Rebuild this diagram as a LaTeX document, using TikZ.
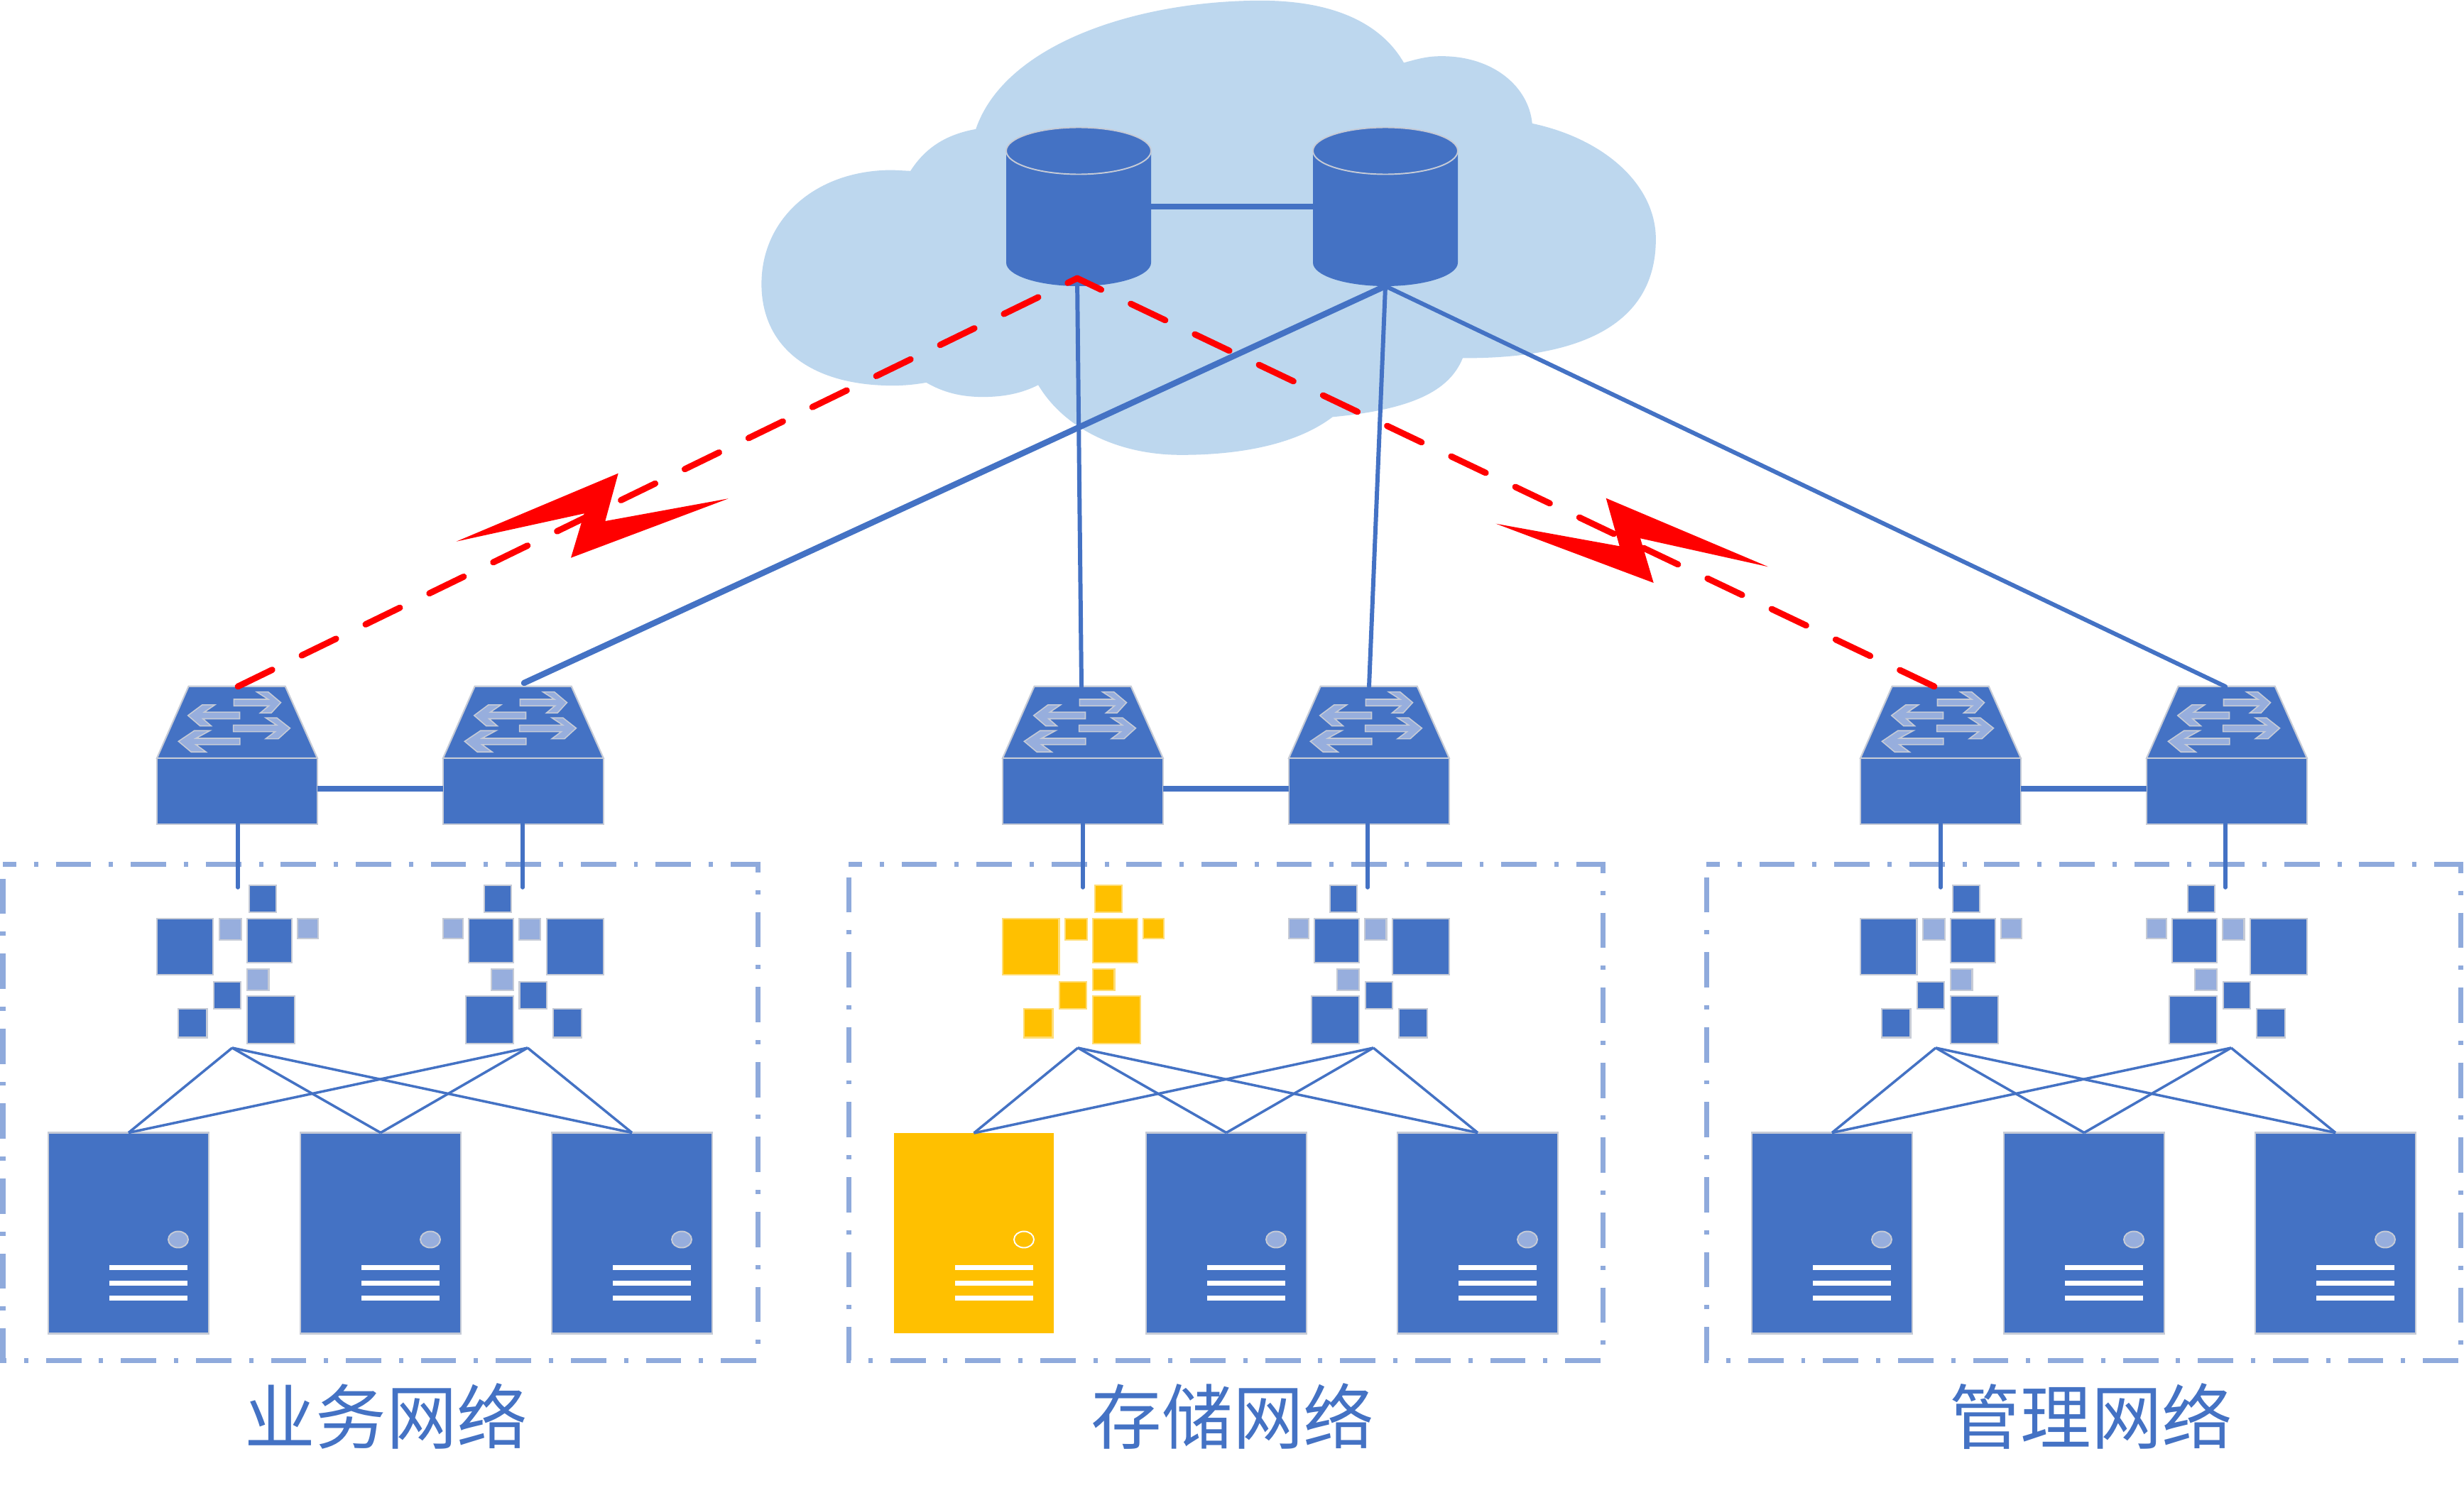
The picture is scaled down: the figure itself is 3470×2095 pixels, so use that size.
\documentclass[tikz,border=0pt]{standalone}
\usepackage{fontspec}
\newfontfamily\cjk{Noto Sans CJK SC}
\definecolor{blu}{HTML}{4472C4}
\definecolor{lblu}{HTML}{97AEDD}
\definecolor{edge}{HTML}{C6CBD6}
\definecolor{yel}{HTML}{FFC000}
\definecolor{yedge}{HTML}{FFDD75}
\definecolor{cloudc}{HTML}{BDD7EE}
\definecolor{boxc}{HTML}{8FAADC}
\tikzset{
  dk/.style={fill=blu,draw=edge,line width=1.2pt},
  lt/.style={fill=lblu,draw=edge,line width=1.2pt},
  ydk/.style={fill=yel,draw=yedge,line width=1.2pt},
  body/.style={rectangle,fill=blu,draw=edge,line width=1.2pt,inner sep=0pt,outer sep=0pt,minimum width=4.52cm,minimum height=1.86cm},
  srv/.style={rectangle,fill=blu,draw=edge,line width=1.2pt,inner sep=0pt,outer sep=0pt,minimum width=4.52cm,minimum height=5.66cm},
  ysrv/.style={rectangle,fill=yel,inner sep=0pt,outer sep=0pt,minimum width=4.5cm,minimum height=5.64cm},
  arrowshape/.style={fill=lblu,draw=edge,line width=0.9pt,line join=miter},
  peer/.style={blu,line width=4.4pt},
  stub/.style={blu,line width=3.2pt,line cap=round},
  upthin/.style={blu,line width=3.4pt,line cap=round},
  upthick/.style={blu,line width=4.8pt,line cap=round},
  redlink/.style={red,line width=5pt,line cap=round,dash pattern=on 30.6pt off 26.3pt},
  cross/.style={blu,line width=2pt},
  netbox/.style={boxc,line width=4pt,dash pattern=on 28.3pt off 14.2pt on 3.4pt off 14.2pt,dash phase=17.6pt},
  netlabel/.style={text=blu,font=\cjk\fontsize{56.7}{60}\selectfont,inner sep=0pt}
}
\newcommand\swtop[1]{%
  \begin{scope}[shift={(#1,940)},x=0.008929cm,y=-0.007143cm,shift={(-47,0)}]
    \draw[dk,line join=miter] (47,358) -- (147,75) -- (452,75) -- (553,358) -- cycle;
    \draw[arrowshape] (290,126) -- (398,126) -- (362,97) -- (398,97) -- (438,139) -- (408,180) -- (373,180) -- (400,152) -- (290,152) -- cycle;
    \draw[arrowshape] (308,177) -- (196,177) -- (230,148) -- (190,148) -- (145,190) -- (183,231) -- (218,231) -- (192,203) -- (308,203) -- cycle;
    \draw[arrowshape] (288,228) -- (425,228) -- (390,199) -- (425,199) -- (467,240) -- (430,282) -- (390,282) -- (420,254) -- (288,254) -- cycle;
    \draw[arrowshape] (309,280) -- (170,280) -- (214,250) -- (165,250) -- (115,292) -- (155,334) -- (202,334) -- (170,305) -- (309,305) -- cycle;
  \end{scope}}
% #1 left x, #2 dark style, #3 light style
\newcommand\groupA[3]{%
  \begin{scope}[shift={(#1,940)},x=0.008929cm,y=-0.007143cm,shift={(-47,0)}]
    \draw[#2] (338,861) rectangle (423,967);
    \draw[#2] (47,991) rectangle (225,1214);
    \draw[#3] (245,991) rectangle (313,1075);
    \draw[#2] (331,991) rectangle (472,1166);
    \draw[#3] (490,991) rectangle (555,1070);
    \draw[#3] (331,1190) rectangle (400,1275);
    \draw[#2] (226,1240) rectangle (312,1347);
    \draw[#2] (115,1347) rectangle (205,1461);
    \draw[#2] (331,1298) rectangle (481,1484);
  \end{scope}}
\newcommand\groupB[3]{%
  \begin{scope}[shift={(#1,940)},x=0.008929cm,y=-0.007143cm,shift={(-950,0)}]
    \draw[#2] (1080,861) rectangle (1165,967);
    \draw[#3] (950,991) rectangle (1013,1070);
    \draw[#2] (1031,991) rectangle (1171,1166);
    \draw[#3] (1190,991) rectangle (1258,1075);
    \draw[#2] (1278,991) rectangle (1456,1214);
    \draw[#3] (1103,1190) rectangle (1171,1275);
    \draw[#2] (1191,1240) rectangle (1277,1347);
    \draw[#2] (1298,1347) rectangle (1387,1461);
    \draw[#2] (1022,1298) rectangle (1171,1484);
  \end{scope}}
\newcommand\srvdetail[1]{%
  \begin{scope}[shift={(#1,0)}]
    \fill[white] (86,1781.5) rectangle (196,1788.5);
    \fill[white] (86,1803.5) rectangle (196,1810.5);
    \fill[white] (86,1824.5) rectangle (196,1831.5);
  \end{scope}}
\newcommand\cyl[1]{%
  \begin{scope}[shift={(#1,0)}]
    \fill[blu] (0,212) -- (0,370) arc[start angle=180,end angle=0,x radius=102,y radius=33] -- (204,212) -- cycle;
    \draw[fill=blu,draw=edge,line width=1.1pt] (102,212.5) ellipse[x radius=102,y radius=33];
  \end{scope}}
\begin{document}
\begin{tikzpicture}[x=0.02cm,y=-0.02cm]
\useasboundingbox (0,0) rectangle (3470,2095);
\fill[white] (0,0) rectangle (3470,2095);
% cloud
\begin{scope}[shift={(1050,0)},x=0.016584cm,y=-0.008418cm]
\fill[cloudc] (391,432) .. controls (440,150) and (660,5) .. (870,2)
  .. controls (1000,0) and (1080,80) .. (1118,210)
  .. controls (1145,195) and (1160,188) .. (1182,188)
  .. controls (1270,188) and (1330,290) .. (1336,413)
  .. controls (1460,465) and (1546,620) .. (1546,800)
  .. controls (1546,1060) and (1440,1200) .. (1218,1198)
  .. controls (1195,1310) and (1130,1370) .. (997,1395)
  .. controls (940,1480) and (850,1522) .. (740,1522)
  .. controls (630,1522) and (540,1430) .. (497,1288)
  .. controls (470,1315) and (440,1328) .. (403,1328)
  .. controls (365,1328) and (335,1312) .. (307,1280)
  .. controls (285,1287) and (270,1290) .. (250,1290)
  .. controls (110,1290) and (27,1160) .. (27,950)
  .. controls (27,730) and (120,568) .. (250,569) -- (280,572)
  .. controls (305,495) and (340,450) .. (391,432) -- cycle;
\end{scope}
% databases
\cyl{1417}
\cyl{1849}
\coordinate (dbAe) at (1620,291);
\coordinate (dbBw) at (1850,291);
\coordinate (dbAb) at (1517,392);
\coordinate (dbBb) at (1951,403);
\draw[peer] (dbAe) -- (dbBw);
% dashed boxes
\coordinate (boxA) at (4,1217);  \coordinate (boxAr) at (1067,1916);
\coordinate (boxB) at (1195,1217); \coordinate (boxBr) at (2257,1916);
\coordinate (boxC) at (2403,1217); \coordinate (boxCr) at (3465,1916);
\draw[netbox] (boxA) -- (boxA -| boxAr) -- (boxAr) -- (boxAr -| boxA) -- cycle;
\draw[netbox] (boxB) -- (boxB -| boxBr) -- (boxBr) -- (boxBr -| boxB) -- cycle;
\draw[netbox] (boxC) -- (boxC -| boxCr) -- (boxCr) -- (boxCr -| boxC) -- cycle;
% switches
\foreach \i/\x in {1/221,2/624,3/1412,4/1815,5/2620,6/3023}{
  \node[body] (sw\i) at ({\x+113},1114.5) {};
  \swtop{\x}
}
% small square clusters
\groupA{221}{dk}{lt}
\groupB{624}{dk}{lt}
\groupA{1412}{ydk}{ydk}
\groupB{1815}{dk}{lt}
\groupA{2620}{dk}{lt}
\groupB{3023}{dk}{lt}
% switch pairs
\foreach \a/\b in {1/2,3/4,5/6}{
  \coordinate (pl\a) at (sw\a.east |- 0,1111);
  \coordinate (pr\b) at (sw\b.west |- 0,1111);
  \draw[peer] (pl\a) -- (pr\b);
}
% stubs to clusters
\foreach \i/\x in {1/335,2/736,3/1525,4/1926,5/2733,6/3134}{
  \coordinate (st\i) at (\x,1161);
  \coordinate (se\i) at (\x,1250);
  \draw[stub] (st\i) -- (se\i);
}
% servers
\foreach \n/\x in {a/68,b/423,c/777,e/1614,f/1968,g/2467,h/2822,i/3176}{
  \node[srv] (srv\n) at ({\x+113},1737) {};
  \srvdetail{\x}
  \draw[fill=lblu,draw=edge,line width=1.1pt] ({\x+183},1746) ellipse[x radius=14,y radius=11.5];
}
\node[ysrv] (srvd) at ({1259+112.5},1737) {};
\srvdetail{1259}
\draw[draw=white,line width=1.1pt] ({1259+183},1746) ellipse[x radius=14,y radius=11.5];
% hubs and cross links
\foreach \h/\x/\p/\q/\r in {a/327/a/b/c,b/743/a/b/c,c/1518/d/e/f,d/1934/d/e/f,e/2726/g/h/i,f/3142/g/h/i}{
  \coordinate (hub\h) at (\x,1476);
  \draw[cross,line join=miter] (hub\h) -- (srv\p.north);
  \draw[cross] (hub\h) -- (srv\q.north);
  \draw[cross] (hub\h) -- (srv\r.north);
}
% uplinks
\coordinate (upA) at (335,967);
\coordinate (upB) at (738,962);
\coordinate (upC) at (1523,967);
\coordinate (upD) at (1928,967);
\coordinate (upE) at (2724,967);
\coordinate (upF) at (3134,967);
\draw[upthin] (dbAb) -- (upC);
\draw[upthin] (dbBb) -- (upD);
\draw[upthin] (dbBb) -- (upF);
\draw[upthick] (dbBb) -- (upB);
\draw[redlink] (upA) -- (dbAb);
\draw[redlink] (upE) -- (dbAb);
% lightning
\fill[red] (642.7,762.7) -- (870.7,666.7) -- (852.3,734) -- (1025.7,702.3) -- (804,785.7) -- (822.7,723.3) -- cycle;
\fill[red] (2106.7,737.7) -- (2280.7,769.3) -- (2261.7,701.7) -- (2490,798.3) -- (2310,758.3) -- (2328.7,821) -- cycle;
% labels
\node[netlabel] (lbA) at (544,1995) {业务网络};
\node[netlabel] (lbB) at (1736,1995) {存储网络};
\node[netlabel] (lbC) at (2945,1995) {管理网络};
\end{tikzpicture}
\end{document}
